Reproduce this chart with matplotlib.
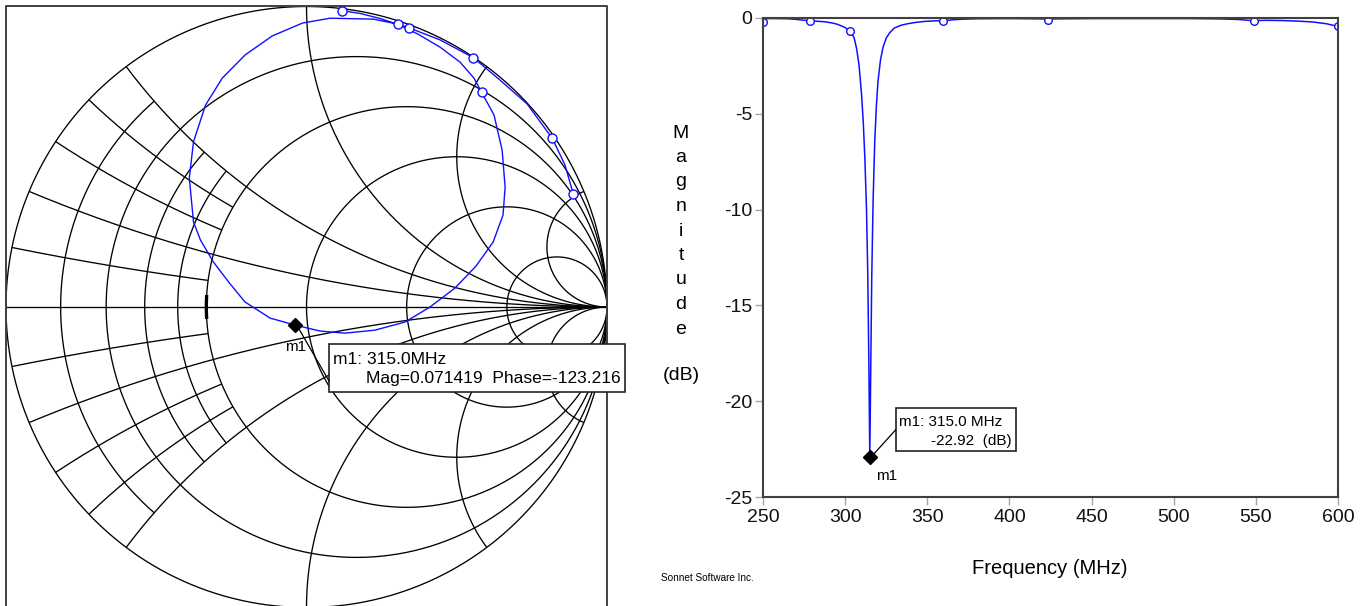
import numpy as np
import matplotlib
matplotlib.use("Agg")
import matplotlib.pyplot as plt
from matplotlib.patches import Rectangle
from matplotlib.lines import Line2D

plt.rcParams['font.family'] = ['Liberation Sans', 'DejaVu Sans']

# ---------------- data ----------------
# Smith chart grid values (normalized resistance / reactance)
r_major = [0.2, 0.5, 1.0, 2.0, 5.0]
x_major = [0.2, 0.5, 1.0, 2.0, 5.0]
r_minor = [0.1, 0.3, 0.4]      # drawn only for |x| <= 0.5
x_minor = [0.1, 0.3, 0.4]      # drawn only for r <= 0.5

# S11 trace on the Smith chart (reflection coefficient, real / imaginary)
smith_re = [0.119, 0.178, 0.245, 0.303, 0.371, 0.444, 0.511, 0.557, 0.583,
            0.624, 0.651, 0.661, 0.654, 0.621, 0.564, 0.494, 0.411, 0.328,
            0.228, 0.128, 0.045, -0.039, -0.121, -0.205, -0.259, -0.310,
            -0.353, -0.376, -0.390, -0.376, -0.336, -0.280, -0.204, -0.114,
            -0.013, 0.078, 0.222, 0.301, 0.341, 0.444, 0.555, 0.644, 0.734,
            0.818, 0.860, 0.888]
smith_im = [0.986, 0.977, 0.960, 0.941, 0.908, 0.865, 0.815, 0.762, 0.714,
            0.639, 0.522, 0.399, 0.306, 0.216, 0.136, 0.063, 0.000, -0.050,
            -0.077, -0.087, -0.080, -0.060, -0.037, 0.017, 0.083, 0.150,
            0.223, 0.283, 0.429, 0.550, 0.672, 0.762, 0.839, 0.902, 0.945,
            0.961, 0.958, 0.942, 0.929, 0.889, 0.830, 0.755, 0.676, 0.561,
            0.473, 0.375]
smith_mk_re = [0.119, 0.303, 0.341, 0.555, 0.583, 0.818, 0.888]
smith_mk_im = [0.986, 0.941, 0.929, 0.830, 0.714, 0.561, 0.375]

# marker m1
m1_freq = 315.0
m1_mag = 0.071419
m1_phase = -123.216
m1_db = -22.92

# |S11| in dB versus frequency
freq_mhz = [250, 251, 253, 258, 265, 270, 274, 278, 283, 288, 292, 295, 298,
            300, 302, 303, 304, 305.5, 307, 308.5, 310, 311, 312, 313, 313.8,
            314.5, 315, 315.5, 316.2, 317, 318, 319, 320, 321.5, 323, 325,
            327, 330, 334, 338, 343, 348, 354, 360, 366, 372, 380, 400, 423,
            450, 480, 510, 530, 540, 548, 556, 565, 575, 585, 593, 600]
mag_db = [-0.21, -0.06, -0.03, -0.03, -0.04, -0.07, -0.11, -0.14, -0.17,
          -0.20, -0.26, -0.32, -0.42, -0.50, -0.62, -0.70, -0.80, -1.05,
          -1.6, -2.5, -4.0, -5.4, -7.3, -10.0, -13.5, -18.5, -22.92, -19.0,
          -13.5, -9.6, -6.5, -4.6, -3.3, -2.2, -1.55, -1.05, -0.78, -0.52,
          -0.38, -0.30, -0.23, -0.18, -0.15, -0.14, -0.09, -0.06, -0.04,
          -0.03, -0.05, -0.03, -0.03, -0.03, -0.05, -0.08, -0.14, -0.12,
          -0.13, -0.16, -0.21, -0.30, -0.44]
mk_freq = [250, 278.4, 303, 359.5, 423.2, 549, 600]
mk_db = [-0.21, -0.14, -0.70, -0.14, -0.09, -0.14, -0.44]

x_ticks = [250, 300, 350, 400, 450, 500, 550, 600]
y_ticks = [0, -5, -10, -15, -20, -25]

# ---------------- layout helpers ----------------
W, H = 1370, 606
fig = plt.figure(figsize=(W / 100, H / 100), dpi=100)


def fx(x):
    return x / W


def fy(y):
    return 1 - y / H


BLUE = '#1010ff'

# ---------------- Smith chart ----------------
CX, CY, R = 306.5, 307.0, 300.5
ax_s = fig.add_axes([0, 0, 620 / W, 1])
ax_s.set_xlim((0 - CX) / R, (620 - CX) / R)
ax_s.set_ylim((CY - 606) / R, (CY - 0) / R)
ax_s.axis('off')


def gamma(z):
    return (z - 1) / (z + 1)


def r_curve(r, x1, x2, n=600):
    t = np.linspace(np.arctan(x1), np.arctan(x2), n)
    g = gamma(r + 1j * np.tan(t))
    return g.real, g.imag


def x_curve(x, r1, r2, n=600):
    u = np.linspace(np.arctan(r1), np.arctan(r2), n)
    g = gamma(np.tan(u) + 1j * x)
    return g.real, g.imag


gk = dict(color='black', lw=0.95, solid_capstyle='butt')
# outer circle
th = np.linspace(0, 2 * np.pi, 1000)
ax_s.plot(np.cos(th), np.sin(th), **gk)
# real axis
ax_s.plot([-1, 1], [0, 0], **gk)
for r in r_major:
    gx, gy = r_curve(r, -np.inf, np.inf)
    ax_s.plot(gx, gy, **gk)
for x in x_major:
    for s in (1, -1):
        gx, gy = x_curve(s * x, 0, np.inf)
        ax_s.plot(gx, gy, **gk)
for r in r_minor:
    gx, gy = r_curve(r, -0.5, 0.5)
    ax_s.plot(gx, gy, **gk)
for x in x_minor:
    for s in (1, -1):
        gx, gy = x_curve(s * x, 0, 0.5)
        ax_s.plot(gx, gy, **gk)
# heavier tick where r = 0.5 crosses the real axis
gx, gy = r_curve(0.5, -0.045, 0.045, 20)
ax_s.plot(gx, gy, color='black', lw=2.4, solid_capstyle='butt')

# frame around the Smith chart
ytop = (CY - 5.5) / R
ylow = (CY - 640) / R
ax_s.plot([-1.0, -1.0, 1.0, 1.0], [ylow, ytop, ytop, ylow], color='#404040',
          lw=1.4, clip_on=False)

# trace
ax_s.plot(smith_re, smith_im, color=BLUE, lw=1.0)
ax_s.plot(smith_mk_re, smith_mk_im, 'o', ms=6.5, mfc='white', mec=BLUE,
          mew=1.0, ls='none')
m1_re = m1_mag * np.cos(np.deg2rad(m1_phase))
m1_im = m1_mag * np.sin(np.deg2rad(m1_phase))
ax_s.plot([m1_re], [m1_im], 'D', ms=7.5, color='black', zorder=5)

# annotation for m1 on the Smith chart
fig.add_artist(Line2D([fx(299), fx(329)], [fy(329), fy(381)],
                      color='black', lw=0.9))
fig.add_artist(Rectangle((fx(328.5), fy(391.5)), (625 - 328.5) / W,
                         (391.5 - 343.5) / H, transform=fig.transFigure,
                         facecolor='white', edgecolor='#222222', lw=1.2))
fig.text(fx(333), fy(360), f'm1: {m1_freq:.1f}MHz', fontsize=12.5,
         ha='left', va='center')
fig.text(fx(621), fy(379),
         f'Mag={m1_mag:.6f}  Phase={m1_phase:.3f}', fontsize=12.5,
         ha='right', va='center')
fig.text(fx(296), fy(347), 'm1', fontsize=11, ha='center', va='center')

# ---------------- magnitude plot ----------------
ax_m = fig.add_axes([fx(763), fy(497), (1338 - 763) / W, (497 - 18) / H])
ax_m.plot(freq_mhz, mag_db, color=BLUE, lw=1.1)
ax_m.plot(mk_freq, mk_db, 'o', ms=5.5, mfc='white', mec=BLUE, mew=1.0,
          ls='none', zorder=4)
ax_m.plot([m1_freq], [m1_db], 'D', ms=7, color='black', zorder=5,
          clip_on=False)
ax_m.set_xlim(250, 600)
ax_m.set_ylim(-25, 0)
ax_m.set_xticks(x_ticks)
ax_m.set_yticks(y_ticks)
ax_m.set_xticklabels([str(t) for t in x_ticks])
ax_m.set_yticklabels([str(t) for t in y_ticks])
ax_m.tick_params(axis='both', direction='out', length=6, width=1,
                 color='#a8a8a8', labelsize=14, labelcolor='#111111')
ax_m.tick_params(axis='x', pad=3)
ax_m.tick_params(axis='y', pad=1.5)
for sp in ax_m.spines.values():
    sp.set_color('#404040')
    sp.set_linewidth(1.5)
    sp.set_zorder(6)

fig.text(fx(1050), fy(568), 'Frequency (MHz)', fontsize=14.5,
         ha='center', va='center')
ylabel = 'Magnitude'
for i, ch in enumerate(ylabel):
    fig.text(fx(681), fy(133 + 24.5 * i), ch, fontsize=14, ha='center',
             va='center')
fig.text(fx(681), fy(376), '(dB)', fontsize=14, ha='center', va='center')
fig.text(fx(661), fy(578), 'Sonnet Software Inc.', fontsize=7.2,
         ha='left', va='center')

# annotation for m1 on the magnitude plot
fig.add_artist(Line2D([fx(872), fx(895.5)], [fy(456), fy(430)],
                      color='black', lw=0.9))
fig.add_artist(Rectangle((fx(895.5), fy(451)), (1016 - 895.5) / W,
                         (451 - 408) / H, transform=fig.transFigure,
                         facecolor='white', edgecolor='#222222', lw=1.2))
fig.text(fx(899), fy(422), f'm1: {m1_freq:.1f} MHz', fontsize=11,
         ha='left', va='center')
fig.text(fx(1012), fy(441), f'{m1_db:.2f}  (dB)', fontsize=11,
         ha='right', va='center')
fig.text(fx(887), fy(476), 'm1', fontsize=11, ha='center', va='center')

fig.savefig('out.png', dpi=100)
